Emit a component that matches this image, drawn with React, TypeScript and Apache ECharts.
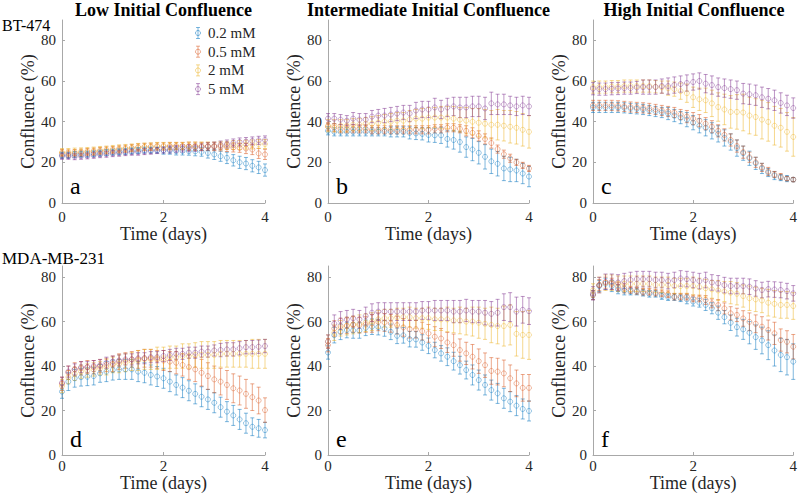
import React, { useEffect, useRef } from "react";
import * as echarts from "echarts";

// ---------- data ----------
const days = [0, 0.125, 0.25, 0.375, 0.5, 0.625, 0.75, 0.875, 1, 1.125, 1.25, 1.375, 1.5, 1.625, 1.75, 1.875, 2, 2.125, 2.25, 2.375, 2.5, 2.625, 2.75, 2.875, 3, 3.125, 3.25, 3.375, 3.5, 3.625, 3.75, 3.875, 4];
const concentrations = ["0.2 mM", "0.5 mM", "2 mM", "5 mM"];
const columnTitles = ["Low Initial Confluence", "Intermediate Initial Confluence", "High Initial Confluence"];
const rowLabels = ["BT-474", "MDA-MB-231"];
const panelLetters = ["a", "b", "c", "d", "e", "f"];
const yTickValues = [0, 20, 40, 60, 80];
const yMaxByRow = [90, 85];

// panel a (BT-474, low)
const aBlue = [23.5, 23.5, 23.8, 24, 24, 24.2, 24.5, 24.8, 25, 25.2, 25.4, 25.6, 25.8, 26, 26, 26, 25.8, 25.8, 25.6, 25.6, 25.5, 25.4, 25.2, 24.6, 23.9, 23, 22.2, 21, 20, 19.4, 18.3, 17.5, 16.2];
const aOrange = [24.5, 24.3, 24.5, 24.7, 25, 25.2, 25.5, 25.8, 26, 26.3, 26.6, 27, 27.3, 27.5, 27.6, 27.8, 27.8, 28, 28, 28, 27.9, 27.9, 27.8, 27.8, 27.7, 27.6, 27.5, 27.3, 27.1, 26.8, 26.3, 24.4, 23.9];
const aYellow = [25, 25, 25.2, 25.3, 25.5, 25.7, 26, 26.2, 26.5, 26.8, 27, 27.2, 27.5, 27.7, 27.8, 28, 28, 28, 28, 28, 28, 28, 28, 28, 28, 28.2, 28.3, 28.5, 28.5, 28.7, 28.8, 29, 29];
const aPurple = [23, 23, 22.8, 23, 23.2, 23.5, 23.8, 24, 24.3, 24.5, 24.8, 25, 25, 25.3, 25.5, 25.8, 26, 26.3, 26.5, 26.8, 27, 27.2, 27.5, 27.8, 28, 28.5, 29, 29.5, 30, 30.2, 30.5, 30.8, 31];
const aBlueErr = [1.5, 1.5, 1.5, 1.5, 1.5, 1.5, 1.5, 1.5, 1.5, 1.5, 1.5, 1.5, 1.5, 1.5, 1.5, 1.5, 1.8, 1.8, 2, 2, 2, 2.2, 2.2, 2.5, 2.5, 2.5, 2.8, 2.8, 3, 3, 3, 3, 3];
const aOrangeErr = [1.8, 1.8, 1.8, 1.8, 1.8, 1.8, 1.8, 1.8, 1.8, 1.8, 1.8, 1.8, 1.8, 1.8, 1.8, 1.8, 1.8, 1.8, 1.8, 1.8, 2, 2, 2, 2, 2, 2, 2.2, 2.2, 2.2, 2.5, 2.5, 2.5, 2.5];
const aYellowErr = [1.8, 1.8, 1.8, 1.8, 1.8, 1.8, 1.8, 1.8, 1.8, 1.8, 1.8, 1.8, 1.8, 1.8, 1.8, 1.8, 1.8, 1.8, 1.8, 1.8, 2, 2, 2, 2, 2, 2, 2, 2.2, 2.2, 2.2, 2.2, 2.2, 2.2];
const aPurpleErr = [1.5, 1.5, 1.5, 1.5, 1.5, 1.5, 1.5, 1.5, 1.5, 1.5, 1.5, 1.5, 1.5, 1.5, 1.5, 1.5, 1.5, 1.8, 1.8, 1.8, 1.8, 1.8, 1.8, 1.8, 2, 2, 2, 2, 2, 2, 2, 2, 2];

// panel b (BT-474, intermediate)
const bBlue = [35.5, 35, 35, 35, 35, 35, 35, 35, 35, 35, 35, 35, 35, 34.5, 34.2, 34, 33.5, 33.3, 33.3, 31.5, 31, 30, 27.5, 26.3, 24.7, 22.7, 20.5, 19.3, 17, 16.5, 16, 14.5, 13];
const bOrange = [37.5, 37, 36.5, 36.5, 36.5, 36.5, 36.5, 36, 36, 36, 36, 36, 36, 36, 36, 36, 36, 36.5, 36.5, 37, 37, 36.5, 35.5, 34.5, 33, 31.5, 29.5, 26.5, 24, 22, 20, 18.5, 17];
const bYellow = [38, 38, 38, 38, 38.5, 38.5, 39, 39, 39.5, 40, 40, 40.5, 40.5, 41, 41.5, 41.5, 42, 42, 42, 42, 41.5, 41, 40.5, 40, 39.5, 39, 38.5, 38.5, 38, 37.5, 37, 36, 35];
const bPurple = [41.5, 41.5, 41, 40.5, 41.5, 41, 41, 42.5, 43, 43, 43.5, 44, 44.5, 44, 45.5, 46, 46, 47, 46, 47, 47.5, 47, 47, 47.5, 47.5, 46.5, 49, 48.5, 48.5, 48, 47.5, 48, 47.5];
const bBlueErr = [2, 2, 2, 2, 2, 2, 2, 2, 2, 2, 2.5, 2.5, 2.5, 3, 3, 3, 3.5, 3.5, 4, 4, 4.5, 5, 5, 5.5, 5.5, 6, 6, 6, 6, 6, 5.5, 5, 5];
const bOrangeErr = [2, 2, 2, 2, 2, 2, 2, 2, 2, 2, 2, 2, 2, 2, 2, 2, 2, 2, 2, 2, 2, 2, 2.5, 2.5, 2.5, 2.5, 2.5, 2, 2, 2, 1.5, 1.5, 1.5];
const bYellowErr = [3, 3, 3, 3, 3, 3, 3, 3.5, 3.5, 3.5, 4, 4, 4, 4.5, 4.5, 5, 5, 5, 5.5, 5.5, 6, 6, 6.5, 6.5, 7, 7, 7, 7.5, 7.5, 8, 8, 8, 8];
const bPurpleErr = [2.5, 2.5, 2.5, 2.5, 3, 3, 3, 3, 3, 3.5, 3.5, 3.5, 3.5, 4, 4, 4, 4, 4.5, 4.5, 4.5, 4.5, 5, 5, 5, 5, 5.5, 5.5, 5, 5, 4.5, 4.5, 4.5, 4.5];

// panel c (BT-474, high)
const cBlue = [47, 47, 47, 47, 47, 46.8, 46.5, 46.3, 46, 45.5, 45, 44.5, 44, 43, 42, 41, 39.5, 38, 37, 35.5, 34, 32, 30, 27, 24.5, 22, 19.5, 17, 15, 13.5, 12.5, 12, 11.5];
const cOrange = [48, 48, 48, 48, 47.8, 47.5, 47.2, 47, 46.8, 46.5, 46, 45.5, 45, 44.5, 43.5, 42.5, 41.5, 40.5, 39, 37.5, 35.5, 33.5, 31, 28, 25, 22.5, 20, 17.5, 15.5, 14, 13, 12, 11.5];
const cYellow = [57, 57, 57, 57.2, 57.2, 57.5, 57.5, 57.5, 57.5, 57.5, 57.2, 57, 56.5, 56, 55, 54, 52, 51, 50.5, 49, 47.2, 46, 44.8, 44.8, 44.5, 43, 42.3, 41, 39.9, 38, 37, 35, 32.5];
const cPurple = [56.2, 56, 56, 56.2, 56.3, 56.5, 56.5, 56.8, 57, 57, 57, 57.5, 57.5, 58, 58.5, 59, 59.5, 60, 58.7, 58, 57, 56.5, 56, 55.5, 53.8, 53.5, 53, 52, 51.3, 50.5, 49.2, 48, 46.7];
const cBlueErr = [2.5, 2.5, 2.5, 2.5, 2.5, 2.5, 2.5, 2.5, 2.5, 2.5, 2.5, 2.5, 3, 3, 3, 3.5, 3.5, 3.5, 4, 4, 4, 4, 4, 4, 3.5, 3.5, 3, 2.5, 2, 2, 1.5, 1.5, 1];
const cOrangeErr = [2.5, 2.5, 2.5, 2.5, 2.5, 2.5, 2.5, 2.5, 2.5, 2.5, 2.5, 2.5, 2.5, 2.5, 2.5, 3, 3, 3, 3, 3, 3, 3, 3, 3, 3, 2.5, 2.5, 2, 2, 1.5, 1.5, 1, 1];
const cYellowErr = [3, 3, 3, 3, 3, 3, 3, 3, 3, 3, 3, 3, 3.5, 3.5, 4, 4.5, 5, 5.5, 6, 6.5, 7, 7.5, 8, 8.5, 9, 9, 9, 9.5, 9.5, 9.5, 9.5, 9.5, 9.5];
const cPurpleErr = [3, 3, 3, 3, 3, 3, 3, 3, 3.5, 3.5, 3.5, 3.5, 4, 4, 4, 4, 4, 4, 4.5, 4.5, 4.5, 4.5, 4.5, 4.5, 5, 5, 5, 5, 5, 5, 5, 5, 5];

// panel d (MDA-MB-231, low)
const dBlue = [28.5, 33, 34.5, 35, 35.2, 35.5, 36.7, 37.5, 38.2, 38.5, 38.5, 38.5, 37.5, 37, 36, 35.3, 34.5, 33, 31.5, 30.3, 28.9, 27.5, 26.2, 25, 23.5, 21.5, 19.5, 17.8, 16, 14.3, 12.7, 12, 11.2];
const dOrange = [32, 37, 38.5, 39, 39.5, 39.5, 40, 40.5, 41, 42, 42.5, 43, 43, 43.5, 43.5, 43, 42.5, 42, 41.5, 40.5, 39.5, 38.5, 37, 35.5, 34, 33, 31.5, 30, 29, 27.5, 26, 24.5, 20.2];
const dYellow = [31, 35, 36.5, 37.5, 38, 38.5, 39, 39.5, 40.5, 41, 41.5, 42, 42.5, 43, 43, 43.5, 43.5, 44, 44, 44.5, 44.5, 45, 45, 45, 45, 45.5, 45.5, 45.5, 45.5, 45.5, 45.5, 45.5, 45.5];
const dPurple = [32.5, 37.5, 38.5, 39.5, 39.5, 40, 40.4, 41.5, 42, 42.5, 43, 43, 43.5, 43.5, 44, 44, 44.5, 45, 45.5, 45.5, 46, 46, 46.5, 46.5, 47, 47.2, 47.5, 47.5, 48, 48.5, 48.5, 48.7, 49];
const dBlueErr = [3, 4, 4, 4, 4, 4, 4, 4.5, 4.5, 4.5, 4.5, 4.5, 4.5, 4.5, 4.5, 4.5, 4.5, 4.5, 4.5, 4.5, 4.5, 4.5, 4.5, 4.5, 4.5, 4.5, 4.5, 4.5, 4.5, 4.5, 4, 4, 3.5];
const dOrangeErr = [3, 3, 3, 3, 3, 3, 3, 3, 3.5, 3.5, 3.5, 3.5, 4, 4, 4, 4, 4.5, 4.5, 5, 5, 5.5, 5.5, 6, 6, 6, 6, 6.5, 6.5, 6.5, 6.5, 6, 6, 5.5];
const dYellowErr = [3, 3, 3, 3, 3, 3, 3, 3.5, 3.5, 4, 4, 4, 4.5, 4.5, 4.5, 5, 5, 5, 5, 5.5, 5.5, 5.5, 6, 6, 6, 6, 6, 6, 6, 6, 6.5, 6.5, 6.5];
const dPurpleErr = [2.5, 2.5, 2.5, 2.5, 2.5, 2.5, 2.5, 2.5, 2.5, 2.5, 2.5, 2.5, 2.5, 2.5, 2.5, 2.5, 2.5, 2.5, 2.5, 2.5, 2.5, 2.5, 2.5, 2.5, 2.5, 3, 3, 3, 3, 3, 3, 3, 3];

// panel e (MDA-MB-231, intermediate)
const eBlue = [46.1, 53.9, 55.4, 56.2, 56, 56, 57.2, 57.7, 57.5, 56.9, 55.4, 53.6, 53.8, 52.1, 52, 50.6, 49.1, 47.2, 45.7, 44.2, 42.2, 40.4, 38.2, 36, 33.7, 31.5, 29.2, 27.7, 25.5, 24, 22.2, 20.7, 19.8];
const eOrange = [49.4, 56.9, 58, 58.2, 58.7, 58.4, 58.7, 59.2, 59.9, 59.6, 59.2, 58.4, 57.4, 56.6, 56.6, 55.7, 54.7, 53.2, 52.4, 50.6, 49.4, 47.2, 45.7, 44.2, 42.2, 40.4, 37.8, 37.5, 36.7, 34.5, 32.2, 30.2, 30.2];
const eYellow = [51, 55, 57, 58, 58.5, 59, 59.5, 60, 61, 61.5, 61.5, 62, 62, 62, 61.5, 61.5, 61.5, 61, 61, 61, 60.5, 60.5, 60, 60, 59.5, 59, 58.5, 58, 58, 58.5, 54.5, 54, 54];
const ePurple = [51, 59, 60.5, 61, 61.5, 61, 62.5, 64, 64.5, 64.5, 64.5, 64.5, 64.5, 64.5, 64.5, 65, 65, 65, 65, 65, 64.5, 64.5, 65, 64.5, 64.5, 64, 63.5, 64, 66.5, 66.5, 64.5, 65.3, 64.7];
const eBlueErr = [3, 3.5, 3.5, 3.5, 3.5, 3.5, 3.5, 3.5, 3.5, 3.5, 3.5, 3.5, 3.5, 3.5, 3.5, 3.5, 3.5, 3.5, 3.5, 4, 4, 4, 4, 4.5, 4.5, 4.5, 4.5, 4.5, 4.5, 4.5, 4.5, 4.5, 4.5];
const eOrangeErr = [3, 3.5, 3.5, 3.5, 3.5, 3.5, 3.5, 4, 4, 4, 4, 4, 4, 4, 4, 4, 4, 4.5, 4.5, 4.5, 5, 5, 5, 5.5, 5.5, 5.5, 6, 6, 6, 6, 6, 6, 6];
const eYellowErr = [3, 3.5, 3.5, 4, 4, 4, 4, 4, 4, 4, 4, 4, 4, 4.5, 4.5, 4.5, 5, 5, 5, 5.5, 5.5, 6, 6, 6.5, 7, 7, 8, 8, 9, 9, 10, 10.5, 11];
const ePurpleErr = [3, 4, 4, 4, 4, 4, 4, 4, 4, 4, 4, 4, 4, 4, 4, 4, 4, 4.5, 4.5, 4.5, 5, 5, 5, 5, 5, 5.5, 5.5, 6, 6, 6.5, 6.5, 6, 6];

// panel f (MDA-MB-231, high)
const fBlue = [72, 76, 77, 76, 74.5, 74, 73.5, 73.5, 73, 72.5, 72.5, 71.5, 71, 71, 70.5, 70, 69, 68.5, 67.5, 66, 64, 62, 59.5, 57.5, 56.5, 55, 53, 51.5, 49.4, 47, 45, 44, 42];
const fOrange = [71.9, 76.4, 77.5, 77, 75.7, 74.9, 74.2, 73.8, 73.4, 73.4, 73, 72.7, 72.3, 71.2, 71.2, 71.2, 70.4, 70.4, 69.7, 68.2, 67.4, 65.9, 63.7, 63, 61.4, 59.9, 59, 57.7, 56.2, 54.7, 51.7, 50.9, 48.7];
const fYellow = [74, 76.5, 77.5, 77.5, 77, 77, 77, 77, 77, 77, 76.5, 76.5, 76.5, 76, 76, 76, 76, 75.5, 75, 74.5, 74, 73.5, 73, 72.5, 71.5, 70.5, 70, 69.5, 68.5, 68, 67.5, 67.5, 67];
const fPurple = [72.7, 76.4, 77.9, 77.9, 77.6, 78.2, 78.7, 79.1, 79.1, 79.1, 78.7, 78.7, 78.2, 78.7, 79.4, 79.1, 78.7, 78.2, 78.7, 77.6, 77.2, 76.4, 76, 76, 76, 75.7, 74.9, 74.2, 74.6, 74.4, 74.2, 73.7, 72.7];
const fBlueErr = [2, 2.5, 2.5, 2.5, 2, 2, 1.5, 1.5, 1.5, 1.5, 1.5, 1.5, 1.5, 1.5, 1.5, 2, 2, 2, 2.5, 2.5, 3, 3, 3.5, 4, 4.5, 5, 5.5, 6, 6.5, 7, 7.5, 8, 8];
const fOrangeErr = [2, 2.5, 2.5, 2.5, 2, 2, 1.5, 1.5, 1.5, 1.5, 1.5, 1.5, 1.5, 1.5, 1.5, 1.5, 1.5, 1.5, 2, 2, 2.5, 2.5, 3, 3, 3.5, 4, 4, 4.5, 4.5, 5, 5, 5, 5.5];
const fYellowErr = [3, 3.5, 3.5, 3.5, 3.5, 3.5, 3.5, 3.5, 3.5, 3.5, 3.5, 3.5, 3.5, 3.5, 3.5, 3.5, 4, 4, 4, 4, 4.5, 4.5, 5, 5, 5, 5.5, 5.5, 5.5, 6, 6, 6, 6, 6];
const fPurpleErr = [3, 3.5, 3.5, 3.5, 3.5, 3.5, 3.5, 3.5, 3.5, 3.5, 3.5, 3.5, 3.5, 3.5, 3.5, 3.5, 3.5, 3.5, 3.5, 3.5, 3.5, 3.5, 3.5, 3.5, 3.5, 3.5, 3.5, 3.5, 3.5, 3.5, 3.5, 3.5, 3.5];

const panelValues = [
  [aBlue, aOrange, aYellow, aPurple],
  [bBlue, bOrange, bYellow, bPurple],
  [cBlue, cOrange, cYellow, cPurple],
  [dBlue, dOrange, dYellow, dPurple],
  [eBlue, eOrange, eYellow, ePurple],
  [fBlue, fOrange, fYellow, fPurple],
];
const panelErrors = [
  [aBlueErr, aOrangeErr, aYellowErr, aPurpleErr],
  [bBlueErr, bOrangeErr, bYellowErr, bPurpleErr],
  [cBlueErr, cOrangeErr, cYellowErr, cPurpleErr],
  [dBlueErr, dOrangeErr, dYellowErr, dPurpleErr],
  [eBlueErr, eOrangeErr, eYellowErr, ePurpleErr],
  [fBlueErr, fOrangeErr, fYellowErr, fPurpleErr],
];

// ---------- styling ----------
const seriesColors = ["rgba(0,114,189,0.5)", "rgba(217,83,25,0.5)", "rgba(237,177,32,0.5)", "rgba(126,47,142,0.5)"];
const SERIF = "'Liberation Serif', 'Times New Roman', serif";
const TEXT = "#262626";
const AXIS = "#a8a8a8";
const cols = [
  { left: 62, width: 203 },
  { left: 328, width: 201 },
  { left: 593, width: 202 },
];
const rows = [
  { top: 20, height: 183 },
  { top: 266, height: 189 },
];

const makeErrorRender = (color: string) => (params: any, api: any) => {
  const x = api.value(0);
  const y = api.value(1);
  const e = api.value(2);
  const hi = api.coord([x, y + e]);
  const lo = api.coord([x, y - e]);
  const cap = 2;
  const style = { stroke: color, lineWidth: 1, fill: "none" };
  return {
    type: "group",
    children: [
      { type: "line", shape: { x1: hi[0], y1: hi[1], x2: lo[0], y2: lo[1] }, style },
      { type: "line", shape: { x1: hi[0] - cap, y1: hi[1], x2: hi[0] + cap, y2: hi[1] }, style },
      { type: "line", shape: { x1: lo[0] - cap, y1: lo[1], x2: lo[0] + cap, y2: lo[1] }, style },
    ],
  };
};

function buildOption() {
  const grid: any[] = [];
  const xAxis: any[] = [];
  const yAxis: any[] = [];
  const series: any[] = [];
  const graphic: any[] = [];

  for (let r = 0; r < 2; r++) {
    for (let c = 0; c < 3; c++) {
      const p = r * 3 + c;
      grid.push({ left: cols[c].left, top: rows[r].top, width: cols[c].width, height: rows[r].height, containLabel: false });
      xAxis.push({
        gridIndex: p,
        type: "value",
        min: 0,
        max: 4,
        interval: 2,
        axisLine: { show: true, onZero: false, lineStyle: { color: AXIS, width: 1 } },
        axisTick: { show: true, inside: true, length: 3, lineStyle: { color: AXIS } },
        axisLabel: { color: TEXT, fontFamily: SERIF, fontSize: 15, margin: r === 0 ? 6 : 3 },
        splitLine: { show: false },
        name: "Time (days)",
        nameLocation: "middle",
        nameGap: r === 0 ? 19 : 16,
        nameTextStyle: { color: TEXT, fontFamily: SERIF, fontSize: 18 },
      });
      yAxis.push({
        gridIndex: p,
        type: "value",
        min: 0,
        max: yMaxByRow[r],
        axisLine: { show: true, onZero: false, lineStyle: { color: AXIS, width: 1 } },
        axisTick: { show: true, inside: true, length: 3, lineStyle: { color: AXIS }, customValues: yTickValues },
        axisLabel: { color: TEXT, fontFamily: SERIF, fontSize: 15, margin: 6, customValues: yTickValues },
        splitLine: { show: false },
        name: "Confluence (%)",
        nameLocation: "middle",
        nameGap: 22,
        nameTextStyle: { color: TEXT, fontFamily: SERIF, fontSize: 18 },
      });
      for (let k = 0; k < 4; k++) {
        const vals = panelValues[p][k];
        const errs = panelErrors[p][k];
        series.push({
          type: "custom",
          name: concentrations[k],
          xAxisIndex: p,
          yAxisIndex: p,
          data: days.map((d, i) => [d, vals[i], errs[i]]),
          encode: { x: 0, y: 1 },
          renderItem: makeErrorRender(seriesColors[k]),
          silent: true,
          z: 2,
        });
        series.push({
          type: "scatter",
          name: concentrations[k],
          xAxisIndex: p,
          yAxisIndex: p,
          data: days.map((d, i) => [d, vals[i]]),
          symbol: "circle",
          symbolSize: 5,
          itemStyle: { color: "rgba(0,0,0,0)", borderColor: seriesColors[k], borderWidth: 1 },
          silent: true,
          z: 3,
        });
      }
      graphic.push({
        type: "text",
        x: cols[c].left + 8,
        y: r === 0 ? 186 : 439,
        style: {
          text: panelLetters[p],
          fontFamily: SERIF,
          fontSize: 24,
          fill: "#000",
          textAlign: "left",
          align: "left",
          textVerticalAlign: "middle",
          verticalAlign: "middle",
        },
      });
    }
  }

  for (let c = 0; c < 3; c++) {
    graphic.push({
      type: "text",
      x: cols[c].left + cols[c].width / 2,
      y: 10,
      style: {
        text: columnTitles[c],
        fontFamily: SERIF,
        fontWeight: "bold",
        fontSize: 18,
        fill: "#000",
        textAlign: "center",
        align: "center",
        textVerticalAlign: "middle",
        verticalAlign: "middle",
      },
    });
  }
  const rowLabelY = [25, 258];
  const rowLabelSize = [16, 17];
  for (let r = 0; r < 2; r++) {
    graphic.push({
      type: "text",
      x: 2,
      y: rowLabelY[r],
      style: {
        text: rowLabels[r],
        fontFamily: SERIF,
        fontSize: rowLabelSize[r],
        fill: "#000",
        textAlign: "left",
        align: "left",
        textVerticalAlign: "middle",
        verticalAlign: "middle",
      },
    });
  }
  for (let k = 0; k < 4; k++) {
    const ly = 33 + k * 18.7;
    const lx = 198;
    const st = { stroke: seriesColors[k], lineWidth: 1, fill: "none" };
    graphic.push({
      type: "group",
      children: [
        { type: "line", shape: { x1: lx, y1: ly - 5.5, x2: lx, y2: ly + 5.5 }, style: st },
        { type: "line", shape: { x1: lx - 2, y1: ly - 5.5, x2: lx + 2, y2: ly - 5.5 }, style: st },
        { type: "line", shape: { x1: lx - 2, y1: ly + 5.5, x2: lx + 2, y2: ly + 5.5 }, style: st },
        { type: "circle", shape: { cx: lx, cy: ly, r: 2.5 }, style: { stroke: seriesColors[k], lineWidth: 1, fill: "rgba(0,0,0,0)" } },
        {
          type: "text",
          x: 208,
          y: ly,
          style: {
            text: concentrations[k],
            fontFamily: SERIF,
            fontSize: 15,
            fill: TEXT,
            textAlign: "left",
            align: "left",
            textVerticalAlign: "middle",
            verticalAlign: "middle",
          },
        },
      ],
    });
  }

  return {
    animation: false,
    backgroundColor: "#ffffff",
    textStyle: { fontFamily: SERIF },
    grid,
    xAxis,
    yAxis,
    series,
    graphic,
  };
}

export default function App() {
  const ref = useRef<HTMLDivElement | null>(null);
  useEffect(() => {
    if (!ref.current) return;
    const chart = echarts.init(ref.current, undefined, { renderer: "svg" });
    chart.setOption(buildOption() as any);
    return () => chart.dispose();
  }, []);
  return <div ref={ref} style={{ position: "fixed", left: 0, top: 0, width: 800, height: 500 }} />;
}
